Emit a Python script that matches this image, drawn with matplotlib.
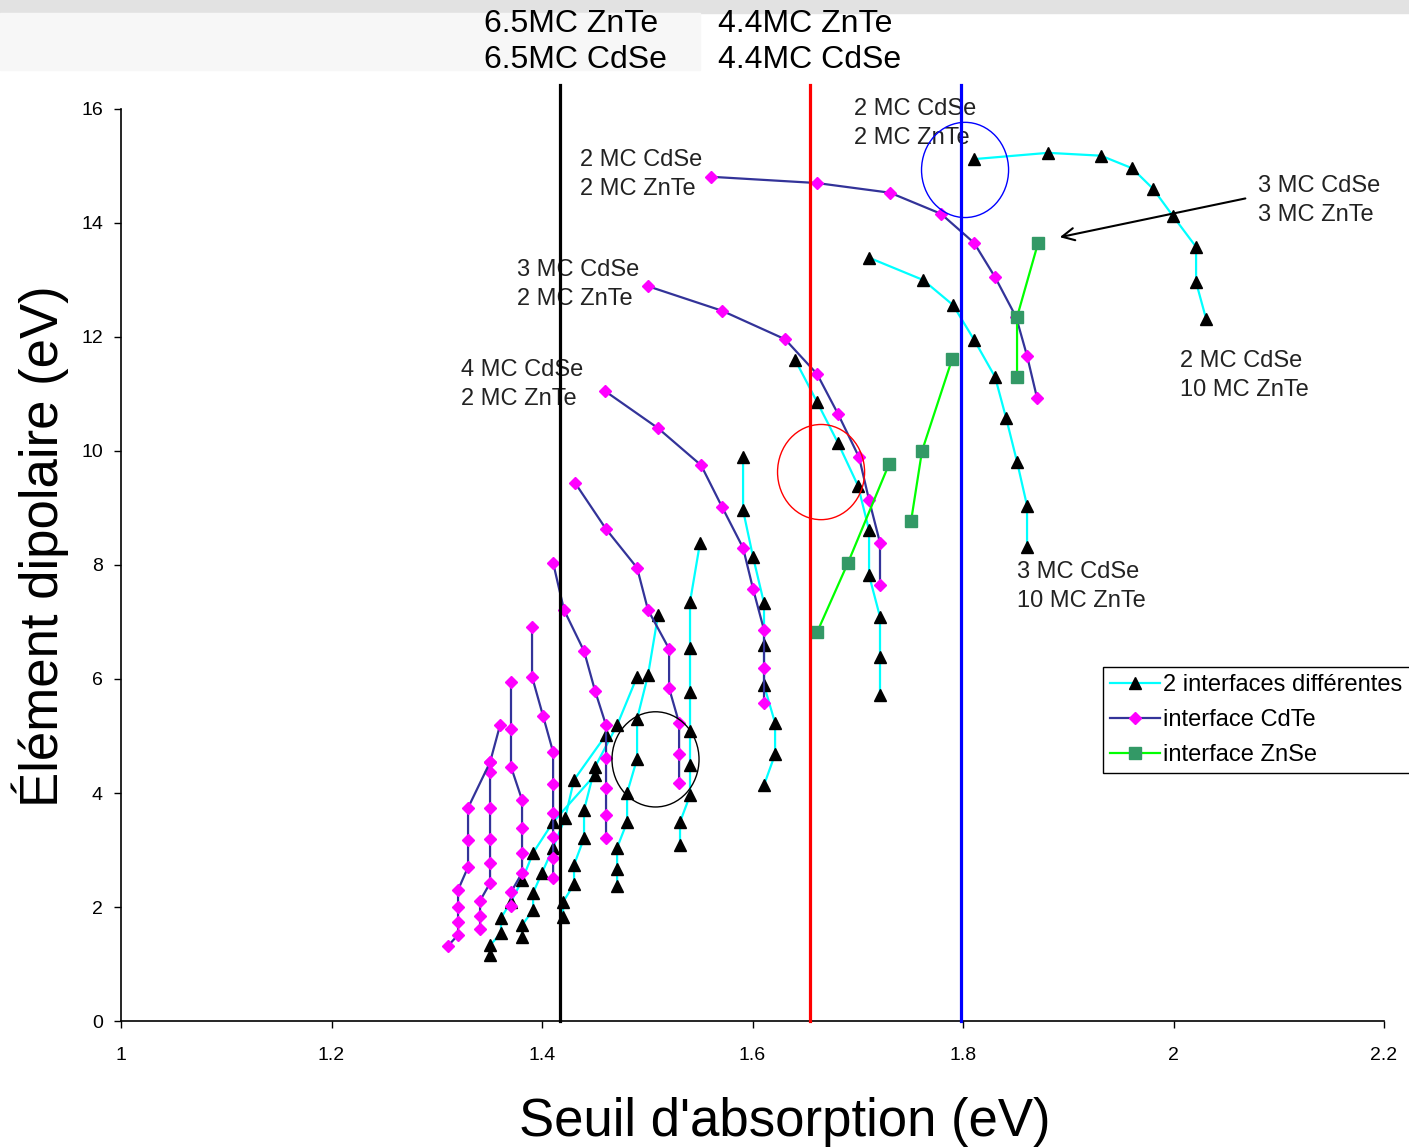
import matplotlib.pyplot as plt
from matplotlib.patches import Ellipse, Rectangle

plt.rcParams['font.family'] = ['Liberation Sans', 'DejaVu Sans']

# courbes "2 interfaces differentes" (triangles)
tri_x = [
    [1.8105, 1.8808, 1.9311, 1.9606, 1.9805, 1.9995, 2.0214, 2.0214, 2.0309],
    [1.7107, 1.7620, 1.7905, 1.8105, 1.8304, 1.8409, 1.8513, 1.8608, 1.8608],
    [1.6404, 1.6613, 1.6812, 1.7002, 1.7107, 1.7107, 1.7211, 1.7211, 1.7211],
    [1.5910, 1.5910, 1.6005, 1.6109, 1.6109, 1.6109, 1.6214, 1.6214, 1.6109],
    [1.5501, 1.5406, 1.5406, 1.5406, 1.5406, 1.5406, 1.5406, 1.5311, 1.5311],
    [1.5102, 1.5007, 1.4903, 1.4903, 1.4808, 1.4808, 1.4713, 1.4713, 1.4713],
    [1.4903, 1.4713, 1.4504, 1.4399, 1.4399, 1.4304, 1.4304, 1.4200, 1.4200],
    [1.4608, 1.4304, 1.4219, 1.4105, 1.4000, 1.3915, 1.3915, 1.3810, 1.3810],
    [1.4504, 1.4105, 1.3915, 1.3810, 1.3705, 1.3610, 1.3610, 1.3506, 1.3506],
]
tri_y = [
    [15.12, 15.23, 15.18, 14.96, 14.60, 14.12, 13.58, 12.96, 12.32],
    [13.39, 13.00, 12.56, 11.95, 11.30, 10.58, 9.81, 9.04, 8.32],
    [11.60, 10.86, 10.14, 9.39, 8.61, 7.82, 7.09, 6.39, 5.72],
    [9.89, 8.96, 8.14, 7.33, 6.60, 5.89, 5.23, 4.68, 4.14],
    [8.39, 7.35, 6.54, 5.77, 5.09, 4.49, 3.96, 3.49, 3.09],
    [7.12, 6.07, 5.30, 4.60, 4.00, 3.49, 3.04, 2.67, 2.37],
    [6.04, 5.19, 4.46, 3.70, 3.21, 2.74, 2.40, 2.09, 1.82],
    [5.02, 4.23, 3.56, 3.04, 2.60, 2.25, 1.95, 1.68, 1.47],
    [4.32, 3.49, 2.95, 2.47, 2.09, 1.81, 1.54, 1.33, 1.16],
]

# courbes "interface CdTe" (losanges)
cdte_x = [
    [1.5606, 1.6613, 1.7307, 1.7791, 1.8105, 1.8304, 1.8504, 1.8608, 1.8703],
    [1.5007, 1.5710, 1.6309, 1.6613, 1.6812, 1.7012, 1.7107, 1.7211, 1.7211],
    [1.4599, 1.5102, 1.5511, 1.5710, 1.5910, 1.6005, 1.6109, 1.6109, 1.6109],
    [1.4314, 1.4608, 1.4903, 1.5007, 1.5207, 1.5207, 1.5302, 1.5302, 1.5302],
    [1.4105, 1.4209, 1.4399, 1.4504, 1.4608, 1.4608, 1.4608, 1.4608, 1.4608],
    [1.3905, 1.3905, 1.4010, 1.4105, 1.4105, 1.4105, 1.4105, 1.4105, 1.4105],
    [1.3705, 1.3705, 1.3705, 1.3810, 1.3810, 1.3810, 1.3810, 1.3705, 1.3705],
    [1.3601, 1.3506, 1.3506, 1.3506, 1.3506, 1.3506, 1.3506, 1.3411, 1.3411, 1.3411],
    [1.3506, 1.3297, 1.3297, 1.3297, 1.3202, 1.3202, 1.3202, 1.3202, 1.3107],
]
cdte_y = [
    [14.81, 14.70, 14.53, 14.16, 13.65, 13.05, 12.35, 11.67, 10.93],
    [12.89, 12.46, 11.96, 11.35, 10.65, 9.89, 9.14, 8.39, 7.65],
    [11.05, 10.40, 9.75, 9.02, 8.30, 7.58, 6.86, 6.19, 5.58],
    [9.44, 8.63, 7.95, 7.21, 6.53, 5.84, 5.23, 4.68, 4.18],
    [8.04, 7.21, 6.49, 5.79, 5.19, 4.61, 4.09, 3.61, 3.21],
    [6.91, 6.04, 5.35, 4.72, 4.16, 3.65, 3.23, 2.86, 2.51],
    [5.95, 5.12, 4.46, 3.88, 3.39, 2.95, 2.60, 2.26, 2.02],
    [5.19, 4.54, 4.37, 3.74, 3.19, 2.77, 2.42, 2.11, 1.84, 1.61],
    [4.54, 3.74, 3.18, 2.70, 2.30, 2.00, 1.74, 1.51, 1.32],
]

# courbes "interface ZnSe" (carres)
znse_x = [
    [1.6613, 1.6907, 1.7297],
    [1.7506, 1.7610, 1.7896],
    [1.8513, 1.8513, 1.8713],
]
znse_y = [
    [6.82, 8.04, 9.77],
    [8.77, 10.00, 11.61],
    [11.30, 12.35, 13.65],
]

# seuils (traits verticaux)
seuil_x = [1.4171, 1.6546, 1.7981]
seuil_col = ['black', 'red', 'blue']

# cercles
cercle_x = [1.5078, 1.6651, 1.8019]
cercle_y = [4.59, 9.63, 14.93]

etiquettes = [
    (1.4361, 14.85, '2 MC CdSe\n2 MC ZnTe'),
    (1.3763, 12.92, '3 MC CdSe\n2 MC ZnTe'),
    (1.3230, 11.16, '4 MC CdSe\n2 MC ZnTe'),
    (1.6964, 15.75, '2 MC CdSe\n2 MC ZnTe'),
    (2.0803, 14.40, '3 MC CdSe\n3 MC ZnTe'),
    (2.0062, 11.33, '2 MC CdSe\n10 MC ZnTe'),
    (1.8513, 7.63, '3 MC CdSe\n10 MC ZnTe'),
]

fig = plt.figure(figsize=(14.09, 11.48), dpi=100)
ax = fig.add_axes([0.0859, 0.1106, 0.8964, 0.7945])

# bandeau gris en haut
fig.patches.append(Rectangle((0, 1 - 13 / 1148), 1, 13 / 1148, transform=fig.transFigure,
                             color='#e2e2e2', zorder=0))
fig.patches.append(Rectangle((0, 1 - 70 / 1148), 700 / 1409, 57 / 1148, transform=fig.transFigure,
                             color='#f7f7f7', zorder=0))

for i in range(len(tri_x)):
    ax.plot(tri_x[i], tri_y[i], color='#00ffff', lw=1.6, marker='^', ms=9,
            mfc='black', mec='black', label='2 interfaces différentes' if i == 0 else None, zorder=3)
for i in range(len(cdte_x)):
    ax.plot(cdte_x[i], cdte_y[i], color='#333399', lw=1.6, marker='D', ms=6.5,
            mfc='#ff00ff', mec='#ff00ff', label='interface CdTe' if i == 0 else None, zorder=4)
for i in range(len(znse_x)):
    ax.plot(znse_x[i], znse_y[i], color='#00ff00', lw=1.6, marker='s', ms=9,
            mfc='#339966', mec='#339966', label='interface ZnSe' if i == 0 else None, zorder=4)

for x, c in zip(seuil_x, seuil_col):
    ax.plot([x, x], [0, 16.42], color=c, lw=2.3, clip_on=False, zorder=5)

for (x, y), c in zip(zip(cercle_x, cercle_y), seuil_col):
    ax.add_patch(Ellipse((x, y), 0.0827, 1.67, fill=False, ec=c, lw=1, zorder=6))

for x, y, t in etiquettes:
    ax.text(x, y, t, fontsize=17, va='center', ha='left', color='#222222',
            linespacing=1.42, zorder=2)

ax.annotate('', xy=(1.8893, 13.74), xytext=(2.0708, 14.44),
            arrowprops=dict(arrowstyle='->', color='black', lw=1.5, mutation_scale=22))

fig.text(484 / 1409, 1 - 24 / 1148, '6.5MC ZnTe', fontsize=23, va='center', ha='left')
fig.text(484 / 1409, 1 - 60 / 1148, '6.5MC CdSe', fontsize=23, va='center', ha='left')
fig.text(718 / 1409, 1 - 24 / 1148, '4.4MC ZnTe', fontsize=23, va='center', ha='left')
fig.text(718 / 1409, 1 - 60 / 1148, '4.4MC CdSe', fontsize=23, va='center', ha='left')

ax.set_xlim(1, 2.2)
ax.set_ylim(0, 16)
ax.set_xticks([1, 1.2, 1.4, 1.6, 1.8, 2, 2.2])
ax.set_xticklabels(['1', '1.2', '1.4', '1.6', '1.8', '2', '2.2'])
ax.set_yticks(range(0, 17, 2))
ax.tick_params(direction='out', length=5, width=1, labelsize=14, pad=8)
ax.tick_params(axis='x', pad=14)
for s in ['top', 'right']:
    ax.spines[s].set_visible(False)
ax.spines['left'].set_linewidth(1.2)
ax.spines['bottom'].set_linewidth(1.2)

fig.text(785 / 1409, 1 - 1122 / 1148, "Seuil d'absorption (eV)", fontsize=38,
         ha='center', va='center')
fig.text(40 / 1409, 1 - 546 / 1148, 'Élément dipolaire (eV)', fontsize=38,
         ha='center', va='center', rotation=90)

leg = ax.legend(loc='upper left', bbox_to_anchor=(0.7775, 0.388), fontsize=17,
                frameon=True, fancybox=False, edgecolor='black', framealpha=1,
                handlelength=2.1, handletextpad=0.15, borderpad=0.3, labelspacing=0.55,
                borderaxespad=0)
leg.get_frame().set_linewidth(1)

fig.savefig('out.png', dpi=100)
